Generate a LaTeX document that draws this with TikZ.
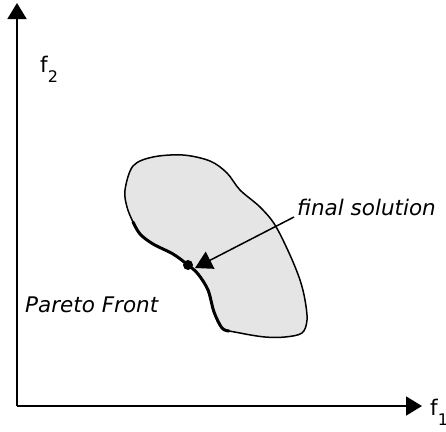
\documentclass[tikz,border=0pt]{standalone}
\usepackage{fontspec}
\setmainfont{DejaVu Sans}
\usetikzlibrary{arrows.meta, positioning}
\tikzset{
  axis/.style={
    line width=1.8pt, draw=black, -{Triangle[length=16pt, width=19pt]},
  },
  region/.style={
    draw=black, line width=1.5pt, fill=black!10, line join=round,
  },
  front/.style={
    draw=black, line width=3pt, line cap=round,
  },
  arrow/.style={
    -{Triangle[length=17pt, width=19pt]}, line width=1.5pt, draw=black,
  },
  tlabel/.style={
    font=\fontsize{21.5}{25}\selectfont\itshape, inner sep=0pt, anchor=base west,
  },
  alabel/.style={
    font=\fontsize{21.5}{25}\selectfont, inner sep=0pt, anchor=base west,
  }
}
\newcommand{\axsub}[1]{\raisebox{-10pt}{\fontsize{16}{18}\selectfont #1}}

\begin{document}
\begin{tikzpicture}[x=1pt, y=-1pt]
  \useasboundingbox (0,0) rectangle (446,431);

  \coordinate (orig) at (17,406);
  \coordinate (ytip) at (17,3);
  \coordinate (xtip) at (422,406);

  \draw[axis] (orig) -- (ytip);
  \draw[axis] (orig) -- (xtip);

  \node[alabel] (f2) at (40,72)  {f\axsub{2}};
  \node[alabel] (f1) at (430,415) {f\axsub{1}};

  % feasible region
  \draw[region] plot[smooth cycle, tension=0.55] coordinates {
    (125,190) (133,166) (153,157) (183,155) (210,161) (227,173)
    (240,190) (260,207) (275,225) (290,255) (300,280) (305,300)
    (307,320) (302,333) (285,337) (265,337) (240,333) (222,328)
    (214,312) (208,290) (198,274) (188,265) (173,254) (153,244)
    (140,234) (133,222) (127,207)};

  % pareto front
  \draw[front] plot[smooth, tension=0.55] coordinates {
    (133,222) (140,234) (153,244) (173,254) (188,265) (198,274)
    (208,290) (214,312) (222,328) (229,331)};

  \node[circle, fill=black, inner sep=0pt, minimum size=10pt] (fin) at (188,265) {};

  \node[tlabel] (sol) at (297,215) {final solution};
  \node[tlabel] (pf)  at (25,312)  {Pareto Front};

  \draw[arrow] ([xshift=-3pt, yshift=-2pt]sol.base west) -- ([xshift=7pt, yshift=-3pt]fin.center);

\end{tikzpicture}
\end{document}
